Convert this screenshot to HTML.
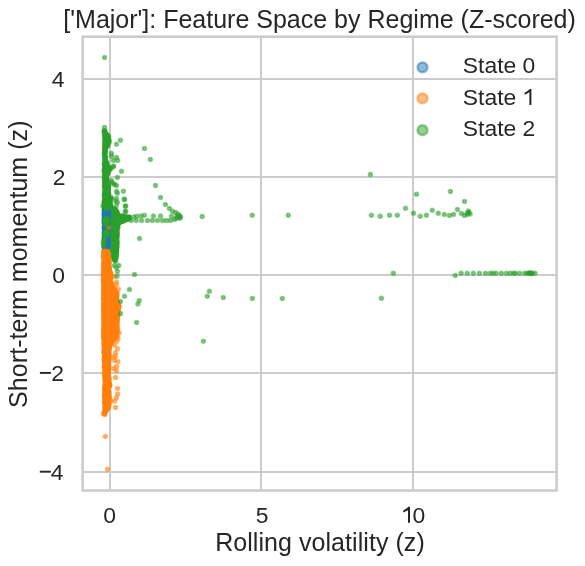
<!DOCTYPE html>
<html><head><meta charset="utf-8"><style>
html,body{margin:0;padding:0;background:#fff;}
svg{display:block;}
text{font-family:"Liberation Sans",sans-serif;fill:#262626;}
svg{will-change:transform;}
</style></head><body>
<svg width="585" height="566" viewBox="0 0 585 566">
<rect width="585" height="566" fill="#fff"/>
<line x1="110.0" y1="36.7" x2="110.0" y2="490.5" stroke="#cccccc" stroke-width="2.04"/>
<line x1="261.0" y1="36.7" x2="261.0" y2="490.5" stroke="#cccccc" stroke-width="2.04"/>
<line x1="413.0" y1="36.7" x2="413.0" y2="490.5" stroke="#cccccc" stroke-width="2.04"/>
<line x1="82.6" y1="79.0" x2="556.6" y2="79.0" stroke="#cccccc" stroke-width="2.04"/>
<line x1="82.6" y1="177.0" x2="556.6" y2="177.0" stroke="#cccccc" stroke-width="2.04"/>
<line x1="82.6" y1="275.0" x2="556.6" y2="275.0" stroke="#cccccc" stroke-width="2.04"/>
<line x1="82.6" y1="373.0" x2="556.6" y2="373.0" stroke="#cccccc" stroke-width="2.04"/>
<line x1="82.6" y1="472.0" x2="556.6" y2="472.0" stroke="#cccccc" stroke-width="2.04"/>
<polygon points="102.0,207.6 111.2,207.6 111.2,249.3 102.0,249.3" fill="#1f77b4"/>
<g fill="#1f77b4" fill-opacity="0.5" stroke="#1f77b4" stroke-opacity="0.5" stroke-width="1.9"><circle cx="104.2" cy="210.2" r="1.8"/><circle cx="106.1" cy="209.5" r="1.8"/><circle cx="108.0" cy="210.1" r="1.8"/><circle cx="109.3" cy="210.1" r="1.8"/><circle cx="109.2" cy="211.7" r="1.8"/><circle cx="108.4" cy="212.9" r="1.8"/><circle cx="109.0" cy="215.4" r="1.8"/><circle cx="108.6" cy="217.2" r="1.8"/><circle cx="109.0" cy="218.1" r="1.8"/><circle cx="109.4" cy="220.1" r="1.8"/><circle cx="108.5" cy="222.3" r="1.8"/><circle cx="108.6" cy="223.8" r="1.8"/><circle cx="109.0" cy="225.6" r="1.8"/><circle cx="108.6" cy="227.3" r="1.8"/><circle cx="108.9" cy="228.7" r="1.8"/><circle cx="108.9" cy="230.3" r="1.8"/><circle cx="109.0" cy="232.6" r="1.8"/><circle cx="108.5" cy="233.7" r="1.8"/><circle cx="108.6" cy="236.2" r="1.8"/><circle cx="108.4" cy="237.3" r="1.8"/><circle cx="109.2" cy="239.3" r="1.8"/><circle cx="109.3" cy="240.9" r="1.8"/><circle cx="108.5" cy="243.1" r="1.8"/><circle cx="108.7" cy="244.9" r="1.8"/><circle cx="109.0" cy="246.3" r="1.8"/><circle cx="108.6" cy="247.5" r="1.8"/><circle cx="107.5" cy="247.0" r="1.8"/><circle cx="105.3" cy="246.5" r="1.8"/><circle cx="103.8" cy="246.7" r="1.8"/><circle cx="103.8" cy="245.1" r="1.8"/><circle cx="104.5" cy="243.0" r="1.8"/><circle cx="104.2" cy="241.5" r="1.8"/><circle cx="104.5" cy="240.5" r="1.8"/><circle cx="104.1" cy="238.1" r="1.8"/><circle cx="104.7" cy="236.9" r="1.8"/><circle cx="104.5" cy="235.0" r="1.8"/><circle cx="104.5" cy="232.7" r="1.8"/><circle cx="104.7" cy="231.8" r="1.8"/><circle cx="104.7" cy="229.2" r="1.8"/><circle cx="103.9" cy="227.7" r="1.8"/><circle cx="104.6" cy="226.6" r="1.8"/><circle cx="104.7" cy="224.9" r="1.8"/><circle cx="104.3" cy="223.0" r="1.8"/><circle cx="104.5" cy="221.3" r="1.8"/><circle cx="104.1" cy="219.1" r="1.8"/><circle cx="104.3" cy="217.6" r="1.8"/><circle cx="104.7" cy="215.7" r="1.8"/><circle cx="103.8" cy="214.2" r="1.8"/><circle cx="104.5" cy="211.9" r="1.8"/><circle cx="104.5" cy="211.0" r="1.8"/></g>
<polygon points="101.5,249.0 108.0,249.0 109.5,250.0 111.2,255.0 111.7,260.0 111.4,265.0 112.1,270.0 113.5,275.0 112.8,280.0 114.5,285.0 117.4,290.0 119.2,292.0 119.2,300.0 121.0,305.0 121.4,307.0 120.3,313.0 119.8,318.0 119.6,325.0 119.4,334.0 117.5,339.0 114.0,343.0 112.0,347.0 111.4,352.0 111.2,365.0 111.0,375.0 111.5,382.0 112.4,385.0 110.8,390.0 111.5,395.0 111.5,400.0 111.1,408.0 108.4,412.0 106.5,414.0 104.4,416.5 102.6,414.0 102.4,405.0 102.6,382.0 102.3,370.0 102.0,355.0 101.6,340.0 101.3,300.0 101.5,260.0" fill="#ff7f0e"/>
<g fill="#ff7f0e" fill-opacity="0.5" stroke="#ff7f0e" stroke-opacity="0.5" stroke-width="1.9"><circle cx="104.7" cy="251.0" r="1.8"/><circle cx="107.5" cy="251.4" r="1.8"/><circle cx="107.9" cy="252.9" r="1.8"/><circle cx="109.4" cy="257.2" r="1.8"/><circle cx="109.5" cy="262.1" r="1.8"/><circle cx="109.5" cy="267.7" r="1.8"/><circle cx="110.7" cy="272.7" r="1.8"/><circle cx="110.7" cy="276.7" r="1.8"/><circle cx="111.6" cy="283.3" r="1.8"/><circle cx="114.1" cy="288.5" r="1.8"/><circle cx="116.8" cy="292.4" r="1.8"/><circle cx="117.0" cy="294.6" r="1.8"/><circle cx="116.6" cy="297.1" r="1.8"/><circle cx="118.1" cy="302.5" r="1.8"/><circle cx="119.2" cy="306.4" r="1.8"/><circle cx="118.3" cy="308.7" r="1.8"/><circle cx="118.2" cy="315.4" r="1.8"/><circle cx="117.3" cy="319.8" r="1.8"/><circle cx="116.8" cy="327.8" r="1.8"/><circle cx="117.0" cy="329.3" r="1.8"/><circle cx="117.2" cy="330.8" r="1.8"/><circle cx="116.7" cy="335.8" r="1.8"/><circle cx="114.0" cy="339.2" r="1.8"/><circle cx="110.8" cy="343.6" r="1.8"/><circle cx="109.0" cy="348.6" r="1.8"/><circle cx="109.1" cy="354.7" r="1.8"/><circle cx="108.6" cy="356.3" r="1.8"/><circle cx="109.3" cy="357.9" r="1.8"/><circle cx="108.6" cy="360.2" r="1.8"/><circle cx="108.7" cy="361.4" r="1.8"/><circle cx="108.7" cy="367.3" r="1.8"/><circle cx="108.4" cy="369.5" r="1.8"/><circle cx="108.3" cy="371.7" r="1.8"/><circle cx="109.3" cy="378.9" r="1.8"/><circle cx="109.5" cy="384.3" r="1.8"/><circle cx="109.5" cy="386.2" r="1.8"/><circle cx="109.3" cy="392.3" r="1.8"/><circle cx="109.3" cy="396.9" r="1.8"/><circle cx="109.5" cy="402.9" r="1.8"/><circle cx="108.6" cy="404.6" r="1.8"/><circle cx="107.8" cy="408.3" r="1.8"/><circle cx="105.6" cy="411.2" r="1.8"/><circle cx="103.4" cy="413.4" r="1.8"/><circle cx="105.2" cy="414.1" r="1.8"/><circle cx="104.6" cy="412.0" r="1.8"/><circle cx="105.3" cy="410.2" r="1.8"/><circle cx="105.1" cy="408.4" r="1.8"/><circle cx="104.7" cy="402.4" r="1.8"/><circle cx="104.4" cy="401.4" r="1.8"/><circle cx="104.7" cy="398.7" r="1.8"/><circle cx="104.4" cy="397.1" r="1.8"/><circle cx="104.6" cy="396.1" r="1.8"/><circle cx="104.5" cy="394.0" r="1.8"/><circle cx="104.9" cy="392.0" r="1.8"/><circle cx="104.6" cy="390.3" r="1.8"/><circle cx="104.6" cy="388.7" r="1.8"/><circle cx="104.7" cy="386.8" r="1.8"/><circle cx="105.3" cy="384.9" r="1.8"/><circle cx="104.9" cy="379.7" r="1.8"/><circle cx="105.1" cy="377.9" r="1.8"/><circle cx="104.8" cy="375.3" r="1.8"/><circle cx="104.3" cy="373.2" r="1.8"/><circle cx="104.1" cy="367.1" r="1.8"/><circle cx="104.5" cy="366.0" r="1.8"/><circle cx="104.7" cy="363.3" r="1.8"/><circle cx="104.3" cy="361.4" r="1.8"/><circle cx="104.5" cy="359.9" r="1.8"/><circle cx="104.0" cy="358.4" r="1.8"/><circle cx="103.8" cy="352.7" r="1.8"/><circle cx="103.9" cy="351.2" r="1.8"/><circle cx="104.2" cy="348.3" r="1.8"/><circle cx="104.2" cy="346.6" r="1.8"/><circle cx="104.4" cy="345.0" r="1.8"/><circle cx="103.7" cy="343.3" r="1.8"/><circle cx="103.5" cy="337.8" r="1.8"/><circle cx="103.6" cy="336.4" r="1.8"/><circle cx="103.6" cy="334.0" r="1.8"/><circle cx="103.6" cy="332.5" r="1.8"/><circle cx="103.6" cy="330.4" r="1.8"/><circle cx="104.1" cy="329.0" r="1.8"/><circle cx="104.2" cy="327.0" r="1.8"/><circle cx="103.8" cy="326.0" r="1.8"/><circle cx="104.2" cy="324.1" r="1.8"/><circle cx="104.1" cy="322.3" r="1.8"/><circle cx="104.0" cy="320.3" r="1.8"/><circle cx="104.1" cy="318.3" r="1.8"/><circle cx="103.6" cy="316.5" r="1.8"/><circle cx="104.1" cy="315.0" r="1.8"/><circle cx="103.6" cy="313.1" r="1.8"/><circle cx="104.0" cy="311.3" r="1.8"/><circle cx="103.6" cy="310.0" r="1.8"/><circle cx="104.1" cy="308.3" r="1.8"/><circle cx="104.1" cy="306.8" r="1.8"/><circle cx="103.4" cy="305.1" r="1.8"/><circle cx="103.8" cy="302.8" r="1.8"/><circle cx="103.4" cy="297.9" r="1.8"/><circle cx="103.9" cy="295.9" r="1.8"/><circle cx="103.6" cy="294.3" r="1.8"/><circle cx="104.0" cy="292.5" r="1.8"/><circle cx="103.8" cy="290.3" r="1.8"/><circle cx="103.6" cy="289.3" r="1.8"/><circle cx="103.8" cy="287.4" r="1.8"/><circle cx="103.8" cy="285.7" r="1.8"/><circle cx="103.7" cy="283.8" r="1.8"/><circle cx="103.6" cy="281.6" r="1.8"/><circle cx="103.2" cy="280.6" r="1.8"/><circle cx="103.9" cy="279.1" r="1.8"/><circle cx="103.9" cy="276.5" r="1.8"/><circle cx="103.3" cy="275.5" r="1.8"/><circle cx="103.3" cy="273.5" r="1.8"/><circle cx="103.9" cy="272.2" r="1.8"/><circle cx="103.7" cy="270.3" r="1.8"/><circle cx="103.7" cy="267.9" r="1.8"/><circle cx="103.8" cy="266.6" r="1.8"/><circle cx="103.5" cy="264.4" r="1.8"/><circle cx="103.5" cy="262.8" r="1.8"/><circle cx="103.3" cy="257.5" r="1.8"/><circle cx="103.5" cy="256.3" r="1.8"/><circle cx="103.5" cy="253.7" r="1.8"/><circle cx="103.6" cy="251.9" r="1.8"/><circle cx="105.3" cy="436.4" r="1.8"/><circle cx="107.5" cy="469.3" r="1.8"/><circle cx="108.7" cy="227.2" r="1.8"/><circle cx="116.5" cy="282.1" r="1.8"/><circle cx="116.5" cy="284.8" r="1.8"/><circle cx="118.3" cy="289.2" r="1.8"/><circle cx="113.9" cy="276.4" r="1.8"/><circle cx="116.9" cy="341.2" r="1.8"/><circle cx="116.5" cy="336.8" r="1.8"/><circle cx="117.4" cy="348.7" r="1.8"/><circle cx="115.6" cy="352.7" r="1.8"/><circle cx="115.6" cy="356.2" r="1.8"/><circle cx="114.3" cy="360.6" r="1.8"/><circle cx="117.8" cy="361.5" r="1.8"/><circle cx="116.5" cy="366.4" r="1.8"/><circle cx="116.5" cy="370.8" r="1.8"/><circle cx="113.4" cy="368.6" r="1.8"/><circle cx="115.6" cy="377.4" r="1.8"/><circle cx="118.0" cy="338.0" r="1.8"/><circle cx="119.0" cy="333.0" r="1.8"/><circle cx="117.0" cy="330.0" r="1.8"/><circle cx="114.5" cy="345.0" r="1.8"/><circle cx="113.5" cy="357.0" r="1.8"/><circle cx="117.5" cy="388.4" r="1.8"/><circle cx="117.7" cy="394.1" r="1.8"/><circle cx="116.4" cy="397.7" r="1.8"/><circle cx="114.6" cy="401.2" r="1.8"/><circle cx="115.5" cy="407.4" r="1.8"/><circle cx="110.6" cy="399.9" r="1.8"/><circle cx="104.4" cy="414.5" r="1.8"/></g>
<polygon points="102.6,129.5 104.0,128.5 106.0,129.5 107.2,131.5 110.8,136.0 111.6,141.0 110.3,145.0 107.7,150.0 107.2,155.0 108.1,160.0 109.9,165.0 112.1,168.0 111.2,172.0 109.0,177.0 109.0,181.0 111.2,186.0 110.8,191.0 111.2,196.0 113.9,198.0 112.5,200.0 112.8,204.0 113.5,206.0 117.4,208.0 118.5,210.0 120.0,213.6 126.0,214.2 131.5,215.3 131.5,220.5 126.0,222.5 120.5,225.0 119.6,230.0 119.4,240.0 119.2,250.0 118.8,255.0 117.5,260.0 116.0,262.5 113.0,262.0 111.4,258.0 111.0,253.0 109.5,249.5 111.2,245.0 111.2,208.0 109.0,208.0 108.0,210.5 105.0,210.5 104.0,208.2 101.9,208.2 102.3,190.0 102.3,160.0 102.4,140.0" fill="#2ca02c"/>
<g fill="#2ca02c" fill-opacity="0.5"><ellipse cx="106.2" cy="221.6" rx="4.9" ry="6.1000000000000005"/><ellipse cx="106" cy="233.4" rx="4.8" ry="4.9"/><ellipse cx="103.9" cy="242.5" rx="3.4" ry="6.4"/><ellipse cx="106.5" cy="208.5" rx="3.4" ry="3.1"/></g>
<g fill="#2ca02c"><ellipse cx="106.2" cy="221.6" rx="3.7" ry="4.9"/><ellipse cx="106" cy="233.4" rx="3.6" ry="3.7"/><ellipse cx="103.9" cy="242.5" rx="2.2" ry="5.2"/><ellipse cx="106.5" cy="208.5" rx="2.2" ry="1.9000000000000001"/></g>
<g fill="#2ca02c" fill-opacity="0.5" stroke="#2ca02c" stroke-opacity="0.5" stroke-width="1.9"><circle cx="104.6" cy="130.8" r="1.8"/><circle cx="103.9" cy="131.3" r="1.8"/><circle cx="104.9" cy="131.4" r="1.8"/><circle cx="107.3" cy="134.7" r="1.8"/><circle cx="108.5" cy="138.6" r="1.8"/><circle cx="109.1" cy="142.4" r="1.8"/><circle cx="107.6" cy="145.8" r="1.8"/><circle cx="105.6" cy="152.3" r="1.8"/><circle cx="105.7" cy="157.3" r="1.8"/><circle cx="106.6" cy="162.6" r="1.8"/><circle cx="109.1" cy="167.7" r="1.8"/><circle cx="109.2" cy="169.4" r="1.8"/><circle cx="107.9" cy="173.0" r="1.8"/><circle cx="106.4" cy="178.9" r="1.8"/><circle cx="107.9" cy="183.8" r="1.8"/><circle cx="108.3" cy="188.1" r="1.8"/><circle cx="108.7" cy="193.5" r="1.8"/><circle cx="111.2" cy="198.6" r="1.8"/><circle cx="111.0" cy="197.3" r="1.8"/><circle cx="110.0" cy="202.2" r="1.8"/><circle cx="110.8" cy="205.8" r="1.8"/><circle cx="114.2" cy="208.9" r="1.8"/><circle cx="116.0" cy="210.0" r="1.8"/><circle cx="117.4" cy="212.4" r="1.8"/><circle cx="122.9" cy="215.8" r="1.8"/><circle cx="128.2" cy="217.2" r="1.8"/><circle cx="129.2" cy="217.2" r="1.8"/><circle cx="127.6" cy="219.0" r="1.8"/><circle cx="122.5" cy="221.3" r="1.8"/><circle cx="118.0" cy="227.0" r="1.8"/><circle cx="117.2" cy="232.5" r="1.8"/><circle cx="116.9" cy="234.4" r="1.8"/><circle cx="116.9" cy="236.6" r="1.8"/><circle cx="117.1" cy="241.9" r="1.8"/><circle cx="116.9" cy="244.0" r="1.8"/><circle cx="116.9" cy="247.1" r="1.8"/><circle cx="116.6" cy="252.1" r="1.8"/><circle cx="116.2" cy="256.4" r="1.8"/><circle cx="114.7" cy="260.0" r="1.8"/><circle cx="115.0" cy="260.0" r="1.8"/><circle cx="114.5" cy="259.3" r="1.8"/><circle cx="113.3" cy="255.5" r="1.8"/><circle cx="112.7" cy="250.2" r="1.8"/><circle cx="112.9" cy="248.4" r="1.8"/><circle cx="113.9" cy="242.8" r="1.8"/><circle cx="113.4" cy="241.2" r="1.8"/><circle cx="113.0" cy="238.8" r="1.8"/><circle cx="113.9" cy="237.3" r="1.8"/><circle cx="113.7" cy="235.2" r="1.8"/><circle cx="113.3" cy="234.0" r="1.8"/><circle cx="113.1" cy="232.0" r="1.8"/><circle cx="113.9" cy="230.9" r="1.8"/><circle cx="113.2" cy="228.5" r="1.8"/><circle cx="113.3" cy="226.9" r="1.8"/><circle cx="113.3" cy="224.7" r="1.8"/><circle cx="113.7" cy="223.1" r="1.8"/><circle cx="113.3" cy="221.8" r="1.8"/><circle cx="113.4" cy="219.8" r="1.8"/><circle cx="113.3" cy="218.0" r="1.8"/><circle cx="113.4" cy="216.0" r="1.8"/><circle cx="113.8" cy="215.0" r="1.8"/><circle cx="113.7" cy="212.4" r="1.8"/><circle cx="113.9" cy="211.0" r="1.8"/><circle cx="110.1" cy="206.2" r="1.8"/><circle cx="106.8" cy="208.5" r="1.8"/><circle cx="106.6" cy="208.5" r="1.8"/><circle cx="106.8" cy="208.4" r="1.8"/><circle cx="102.9" cy="206.1" r="1.8"/><circle cx="104.7" cy="206.4" r="1.8"/><circle cx="104.3" cy="203.7" r="1.8"/><circle cx="103.9" cy="202.6" r="1.8"/><circle cx="104.4" cy="199.9" r="1.8"/><circle cx="104.7" cy="198.2" r="1.8"/><circle cx="104.8" cy="196.5" r="1.8"/><circle cx="104.2" cy="195.2" r="1.8"/><circle cx="104.8" cy="193.2" r="1.8"/><circle cx="104.9" cy="187.3" r="1.8"/><circle cx="104.6" cy="185.8" r="1.8"/><circle cx="104.8" cy="184.4" r="1.8"/><circle cx="104.6" cy="182.2" r="1.8"/><circle cx="105.1" cy="180.4" r="1.8"/><circle cx="104.2" cy="178.4" r="1.8"/><circle cx="104.7" cy="177.3" r="1.8"/><circle cx="104.4" cy="175.2" r="1.8"/><circle cx="104.6" cy="173.1" r="1.8"/><circle cx="104.2" cy="171.6" r="1.8"/><circle cx="104.1" cy="170.3" r="1.8"/><circle cx="104.6" cy="168.0" r="1.8"/><circle cx="104.7" cy="166.1" r="1.8"/><circle cx="104.5" cy="165.0" r="1.8"/><circle cx="104.3" cy="163.2" r="1.8"/><circle cx="104.8" cy="158.1" r="1.8"/><circle cx="104.6" cy="156.0" r="1.8"/><circle cx="104.4" cy="153.8" r="1.8"/><circle cx="104.5" cy="152.3" r="1.8"/><circle cx="104.8" cy="150.6" r="1.8"/><circle cx="104.6" cy="149.0" r="1.8"/><circle cx="104.8" cy="147.2" r="1.8"/><circle cx="105.1" cy="145.2" r="1.8"/><circle cx="104.8" cy="143.1" r="1.8"/><circle cx="105.1" cy="137.7" r="1.8"/><circle cx="104.9" cy="135.8" r="1.8"/><circle cx="104.4" cy="134.8" r="1.8"/><circle cx="104.8" cy="132.3" r="1.8"/><circle cx="104.6" cy="57.5" r="1.8"/><circle cx="104.5" cy="127.4" r="1.8"/><circle cx="108.6" cy="136.3" r="1.8"/><circle cx="120.5" cy="140.3" r="1.8"/><circle cx="116.5" cy="144.3" r="1.8"/><circle cx="111.5" cy="153.4" r="1.8"/><circle cx="111.5" cy="156.2" r="1.8"/><circle cx="116.5" cy="157.5" r="1.8"/><circle cx="113.4" cy="160.5" r="1.8"/><circle cx="117.7" cy="160.5" r="1.8"/><circle cx="113.4" cy="166.4" r="1.8"/><circle cx="111.2" cy="168.6" r="1.8"/><circle cx="113.4" cy="166.3" r="1.8"/><circle cx="121.5" cy="171.2" r="1.8"/><circle cx="117.4" cy="177.4" r="1.8"/><circle cx="111.5" cy="180.5" r="1.8"/><circle cx="116.5" cy="185.5" r="1.8"/><circle cx="113.2" cy="183.4" r="1.8"/><circle cx="111.2" cy="182.4" r="1.8"/><circle cx="114.7" cy="184.6" r="1.8"/><circle cx="116.5" cy="191.3" r="1.8"/><circle cx="117.4" cy="193.3" r="1.8"/><circle cx="123.4" cy="191.3" r="1.8"/><circle cx="116.5" cy="198.4" r="1.8"/><circle cx="117.4" cy="202.3" r="1.8"/><circle cx="124.3" cy="199.3" r="1.8"/><circle cx="125.3" cy="206.3" r="1.8"/><circle cx="125.3" cy="211.4" r="1.8"/><circle cx="116.5" cy="205.6" r="1.8"/><circle cx="124.5" cy="199.4" r="1.8"/><circle cx="125.7" cy="205.9" r="1.8"/><circle cx="125.7" cy="211.4" r="1.8"/><circle cx="115.5" cy="201.0" r="1.8"/><circle cx="144.5" cy="148.5" r="1.8"/><circle cx="150.4" cy="159.4" r="1.8"/><circle cx="155.5" cy="185.4" r="1.8"/><circle cx="160.5" cy="197.5" r="1.8"/><circle cx="165.4" cy="204.6" r="1.8"/><circle cx="169.4" cy="208.4" r="1.8"/><circle cx="172.5" cy="211.2" r="1.8"/><circle cx="175.6" cy="212.5" r="1.8"/><circle cx="178.0" cy="214.2" r="1.8"/><circle cx="180.0" cy="216.2" r="1.8"/><circle cx="179.5" cy="218.2" r="1.8"/><circle cx="177.0" cy="216.5" r="1.8"/><circle cx="178.8" cy="215.5" r="1.8"/><circle cx="180.5" cy="217.5" r="1.8"/><circle cx="171.4" cy="216.3" r="1.8"/><circle cx="160.5" cy="216.1" r="1.8"/><circle cx="153.4" cy="216.1" r="1.8"/><circle cx="144.4" cy="215.2" r="1.8"/><circle cx="140.9" cy="216.1" r="1.8"/><circle cx="136.7" cy="216.2" r="1.8"/><circle cx="133.9" cy="216.9" r="1.8"/><circle cx="131.2" cy="220.5" r="1.8"/><circle cx="136.3" cy="220.5" r="1.8"/><circle cx="141.6" cy="220.5" r="1.8"/><circle cx="147.5" cy="220.5" r="1.8"/><circle cx="152.4" cy="220.5" r="1.8"/><circle cx="157.5" cy="220.5" r="1.8"/><circle cx="162.5" cy="220.5" r="1.8"/><circle cx="166.5" cy="220.5" r="1.8"/><circle cx="170.5" cy="220.5" r="1.8"/><circle cx="174.5" cy="219.5" r="1.8"/><circle cx="176.3" cy="218.3" r="1.8"/><circle cx="202.2" cy="216.4" r="1.8"/><circle cx="252.2" cy="215.3" r="1.8"/><circle cx="288.3" cy="215.3" r="1.8"/><circle cx="139.5" cy="238.4" r="1.8"/><circle cx="134.5" cy="274.5" r="1.8"/><circle cx="129.4" cy="289.4" r="1.8"/><circle cx="124.5" cy="296.3" r="1.8"/><circle cx="139.2" cy="300.5" r="1.8"/><circle cx="137.9" cy="304.0" r="1.8"/><circle cx="136.6" cy="322.5" r="1.8"/><circle cx="120.5" cy="301.5" r="1.8"/><circle cx="120.5" cy="313.4" r="1.8"/><circle cx="203.3" cy="341.3" r="1.8"/><circle cx="209.4" cy="291.2" r="1.8"/><circle cx="207.3" cy="296.3" r="1.8"/><circle cx="223.3" cy="297.5" r="1.8"/><circle cx="252.4" cy="298.4" r="1.8"/><circle cx="282.3" cy="298.4" r="1.8"/><circle cx="114.3" cy="265.6" r="1.8"/><circle cx="118.8" cy="265.6" r="1.8"/><circle cx="116.6" cy="267.8" r="1.8"/><circle cx="117.4" cy="271.4" r="1.8"/><circle cx="117.0" cy="276.2" r="1.8"/><circle cx="115.7" cy="261.2" r="1.8"/><circle cx="116.1" cy="257.7" r="1.8"/><circle cx="370.4" cy="174.4" r="1.8"/><circle cx="416.5" cy="194.3" r="1.8"/><circle cx="450.4" cy="191.4" r="1.8"/><circle cx="464.5" cy="201.5" r="1.8"/><circle cx="371.4" cy="215.2" r="1.8"/><circle cx="380.2" cy="216.2" r="1.8"/><circle cx="389.5" cy="215.2" r="1.8"/><circle cx="397.3" cy="215.2" r="1.8"/><circle cx="405.5" cy="208.2" r="1.8"/><circle cx="413.5" cy="213.3" r="1.8"/><circle cx="420.2" cy="216.2" r="1.8"/><circle cx="426.4" cy="215.2" r="1.8"/><circle cx="432.3" cy="210.3" r="1.8"/><circle cx="438.3" cy="213.3" r="1.8"/><circle cx="444.4" cy="214.5" r="1.8"/><circle cx="449.4" cy="215.4" r="1.8"/><circle cx="453.5" cy="214.5" r="1.8"/><circle cx="457.4" cy="209.4" r="1.8"/><circle cx="461.4" cy="213.5" r="1.8"/><circle cx="464.4" cy="215.4" r="1.8"/><circle cx="468.4" cy="211.1" r="1.8"/><circle cx="467.7" cy="213.1" r="1.8"/><circle cx="470.1" cy="214.1" r="1.8"/><circle cx="467.0" cy="214.5" r="1.8"/><circle cx="468.8" cy="212.5" r="1.8"/><circle cx="393.3" cy="273.3" r="1.8"/><circle cx="381.4" cy="298.2" r="1.8"/><circle cx="455.2" cy="275.5" r="1.8"/><circle cx="461.2" cy="273.3" r="1.8"/><circle cx="467.2" cy="273.3" r="1.8"/><circle cx="473.3" cy="273.3" r="1.8"/><circle cx="479.4" cy="273.3" r="1.8"/><circle cx="485.4" cy="273.3" r="1.8"/><circle cx="490.2" cy="273.3" r="1.8"/><circle cx="493.1" cy="273.3" r="1.8"/><circle cx="496.0" cy="273.3" r="1.8"/><circle cx="501.3" cy="273.3" r="1.8"/><circle cx="506.4" cy="273.3" r="1.8"/><circle cx="510.2" cy="273.3" r="1.8"/><circle cx="513.6" cy="273.3" r="1.8"/><circle cx="515.3" cy="273.3" r="1.8"/><circle cx="519.6" cy="273.3" r="1.8"/><circle cx="524.7" cy="273.3" r="1.8"/><circle cx="527.3" cy="273.3" r="1.8"/><circle cx="529.0" cy="273.3" r="1.8"/><circle cx="530.7" cy="273.3" r="1.8"/><circle cx="532.4" cy="273.3" r="1.8"/><circle cx="535.0" cy="273.3" r="1.8"/><circle cx="529.8" cy="272.8" r="1.8"/><circle cx="531.5" cy="273.8" r="1.8"/></g>

<rect x="82.6" y="36.7" width="474.00" height="453.80" fill="none" stroke="#cccccc" stroke-width="2.6"/>
<text x="109.5" y="522.7" text-anchor="middle" font-size="22.9">0</text>
<text x="262.0" y="522.7" text-anchor="middle" font-size="22.9">5</text>
<path transform="translate(410.0,522.7)" d="M0 0L-2.0 0L-2.0 -12.8Q-2.8 -12.1 -4.2 -11.4Q-5.6 -10.6 -6.8 -10.2L-6.8 -12.2Q-5.0 -13.0 -3.6 -14.2Q-2.2 -15.3 -1.6 -16.0L0 -16.0Z" fill="#262626"/>
<text x="412.5" y="522.7" font-size="22.9">0</text>
<text x="64.4" y="87.0" text-anchor="end" font-size="22.9">4</text>
<text x="65.5" y="184.8" text-anchor="end" font-size="22.9">2</text>
<text x="64.9" y="282.5" text-anchor="end" font-size="22.9">0</text>
<text x="64.0" y="380.9" text-anchor="end" font-size="22.9">2</text>
<text x="63.6" y="479.8" text-anchor="end" font-size="22.9">4</text>
<rect x="39.9" y="371.95" width="11.0" height="1.9" fill="#262626"/>
<rect x="39.8" y="470.75" width="11.1" height="1.9" fill="#262626"/>
<text x="319.6" y="27.7" text-anchor="middle" font-size="25">['Major']: Feature Space by Regime (Z-scored)</text>
<text x="319.95" y="550.9" text-anchor="middle" font-size="25" textLength="209.6" lengthAdjust="spacing">Rolling volatility (z)</text>
<text transform="translate(26.7,264.2) rotate(-90)" x="0" y="0" text-anchor="middle" font-size="25" textLength="287.4" lengthAdjust="spacing">Short-term momentum (z)</text>
<circle cx="422.5" cy="67.3" r="4.9" fill="#1f77b4" fill-opacity="0.5" stroke="#1f77b4" stroke-opacity="0.5" stroke-width="2.5"/>
<text x="462.8" y="72.8" font-size="22.9">State 0</text>
<circle cx="422.5" cy="98.4" r="4.9" fill="#ff7f0e" fill-opacity="0.5" stroke="#ff7f0e" stroke-opacity="0.5" stroke-width="2.5"/>
<text x="462.8" y="104.9" font-size="22.9">State</text>
<path transform="translate(531.4,104.9)" d="M0 0L-2.0 0L-2.0 -12.8Q-2.8 -12.1 -4.2 -11.4Q-5.6 -10.6 -6.8 -10.2L-6.8 -12.2Q-5.0 -13.0 -3.6 -14.2Q-2.2 -15.3 -1.6 -16.0L0 -16.0Z" fill="#262626"/>
<circle cx="422.5" cy="130.2" r="4.9" fill="#2ca02c" fill-opacity="0.5" stroke="#2ca02c" stroke-opacity="0.5" stroke-width="2.5"/>
<text x="462.8" y="136.0" font-size="22.9">State 2</text>
</svg></body></html>
